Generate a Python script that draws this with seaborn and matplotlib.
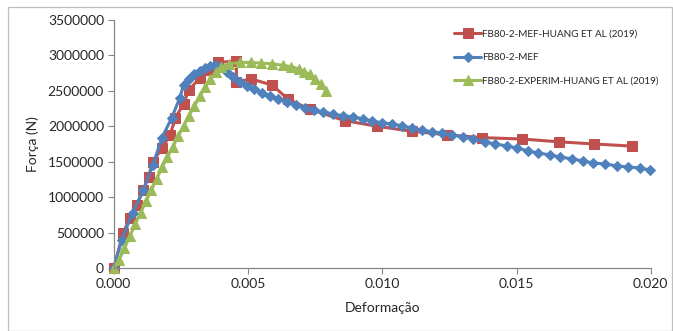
import numpy as np
import pandas as pd
import matplotlib
matplotlib.use("Agg")
import matplotlib.pyplot as plt
import seaborn as sns
from matplotlib.patches import Rectangle

# FB80-2-MEF-HUANG ET AL (2019)
red_x = [0.0, 0.00034, 0.0006, 0.00086, 0.0011, 0.0013, 0.00145, 0.0018, 0.0021, 0.0023,
         0.0026, 0.0028, 0.0032, 0.0036, 0.0039, 0.00457, 0.00457, 0.0051, 0.0059, 0.0065,
         0.0073, 0.0086, 0.0098, 0.0111, 0.0124, 0.0137, 0.0152, 0.0166, 0.0179, 0.0193]
red_y = [0, 490000, 700000, 890000, 1100000, 1290000, 1500000, 1690000, 1880000, 2120000,
         2320000, 2510000, 2680000, 2800000, 2900000, 2920000, 2620000, 2670000, 2580000, 2380000,
         2240000, 2080000, 2000000, 1930000, 1880000, 1840000, 1820000, 1780000, 1750000, 1720000]

# FB80-2-MEF
blue_x = [0.0, 0.0003, 0.0007, 0.0011, 0.00145, 0.0018, 0.00216, 0.00246, 0.0026, 0.0028,
          0.0030, 0.0032, 0.0034, 0.0036, 0.00376, 0.0040, 0.00421, 0.00443, 0.00469, 0.00495,
          0.00521, 0.00551, 0.00581, 0.00611, 0.00644, 0.00678, 0.00711, 0.00745, 0.00778, 0.00816,
          0.00853, 0.0089, 0.00927, 0.00961, 0.00998, 0.01035, 0.01073, 0.0111, 0.01147, 0.01184,
          0.01222, 0.01259, 0.013, 0.01337, 0.01382, 0.01419, 0.01464, 0.01501, 0.01542, 0.01579,
          0.01624, 0.01661, 0.01706, 0.01747, 0.01784, 0.01829, 0.01873, 0.01914, 0.01959, 0.01996]
blue_y = [0, 400000, 780000, 1100000, 1450000, 1840000, 2120000, 2400000, 2580000, 2660000,
          2730000, 2780000, 2820000, 2850000, 2867000, 2830000, 2768000, 2698000, 2627000, 2571000,
          2528000, 2472000, 2429000, 2387000, 2345000, 2302000, 2260000, 2232000, 2203000, 2175000,
          2147000, 2133000, 2105000, 2076000, 2048000, 2034000, 2006000, 1977000, 1949000, 1921000,
          1907000, 1879000, 1850000, 1822000, 1780000, 1751000, 1723000, 1695000, 1653000, 1624000,
          1596000, 1568000, 1540000, 1511000, 1483000, 1469000, 1441000, 1427000, 1412000, 1384000]

# FB80-2-EXPERIM-HUANG ET AL (2019)
green_x = [0.0, 0.0002, 0.0004, 0.0006, 0.0008, 0.0010, 0.0012, 0.0014, 0.0016, 0.0018,
           0.0020, 0.0022, 0.0024, 0.0026, 0.0028, 0.0030, 0.0032, 0.0034, 0.0036, 0.0038,
           0.0040, 0.0043, 0.0047, 0.0051, 0.0055, 0.0059, 0.0063, 0.0066, 0.0069, 0.0071,
           0.0073, 0.0075, 0.0077, 0.0079]
green_y = [0, 120000, 280000, 450000, 620000, 780000, 940000, 1100000, 1260000, 1420000,
           1570000, 1710000, 1860000, 2000000, 2150000, 2280000, 2420000, 2550000, 2660000, 2760000,
           2830000, 2880000, 2900000, 2900000, 2890000, 2880000, 2860000, 2840000, 2810000, 2770000,
           2730000, 2670000, 2590000, 2500000]

labels = ["FB80-2-MEF-HUANG ET AL (2019)", "FB80-2-MEF", "FB80-2-EXPERIM-HUANG ET AL (2019)"]
x_ticks = [0.000, 0.005, 0.010, 0.015, 0.020]
y_ticks = [0, 500000, 1000000, 1500000, 2000000, 2500000, 3000000, 3500000]

sns.set_style("white")
plt.rcParams['font.family'] = ['Lato', 'DejaVu Sans']

fig = plt.figure(figsize=(6.73, 3.31), dpi=100)
ax = fig.add_axes([0.169, 0.19, 0.798, 0.75])

series = [
    (red_x, red_y, "#C0504D", "s", 7),
    (blue_x, blue_y, "#4F81BD", "D", 5.5),
    (green_x, green_y, "#9BBB59", "^", 6.5),
]
for (xs, ys, col, mk, ms), lab in zip(series, labels):
    df = pd.DataFrame({"x": xs, "y": ys})
    sns.lineplot(data=df, x="x", y="y", ax=ax, color=col, marker=mk, markersize=ms,
                 markeredgecolor=col, linewidth=2.2, sort=False, estimator=None, label=lab)

ax.set_xlim(0, 0.020)
ax.set_ylim(0, 3500000)
ax.set_xticks(x_ticks)
ax.set_yticks(y_ticks)
ax.set_xticklabels([f"{v:.3f}" for v in x_ticks])
ax.set_yticklabels([str(v) for v in y_ticks])
ax.tick_params(axis="both", labelsize=10, length=4, color="#868686", direction="out",
               left=True, bottom=True, pad=3)
for s in ["top", "right"]:
    ax.spines[s].set_visible(False)
for s in ["left", "bottom"]:
    ax.spines[s].set_color("#868686")
    ax.spines[s].set_linewidth(0.9)
ax.set_xlabel("Deformação", fontsize=10, labelpad=9)
ax.set_ylabel("Força (N)", fontsize=10, labelpad=6)
for ln in ax.lines:
    ln.set_clip_on(False)

ax.legend(loc="upper left", bbox_to_anchor=(0.615, 1.0), frameon=False, fontsize=7.1,
          handlelength=2.8, labelspacing=1.45, handletextpad=0.05, borderaxespad=0.6)

fig.patches.append(Rectangle((8 / 673, 0.0), 664 / 673, 1 - 7 / 331, transform=fig.transFigure,
                             fill=False, edgecolor="#BFBFBF", linewidth=0.9))

fig.savefig("out.png", dpi=100)
